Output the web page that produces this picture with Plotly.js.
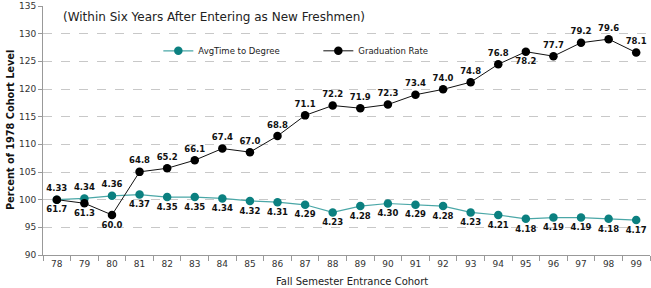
<!DOCTYPE html>
<html><head><meta charset="utf-8">
<script src="https://cdn.plot.ly/plotly-3.0.1.min.js"></script>
<style>html,body{margin:0;padding:0;background:#fff}</style>
</head><body><div id="chart" style="width:651px;height:288px"></div>
<script>
const cohorts = ['78','79','80','81','82','83','84','85','86','87','88','89','90','91','92','93','94','95','96','97','98','99'];
const avgTime = [4.33,4.34,4.36,4.37,4.35,4.35,4.34,4.32,4.31,4.29,4.23,4.28,4.30,4.29,4.28,4.23,4.21,4.18,4.19,4.19,4.18,4.17];
const gradRate = [61.7,61.3,60.0,64.8,65.2,66.1,67.4,67.0,68.8,71.1,72.2,71.9,72.3,73.4,74.0,74.8,76.8,78.2,77.7,79.2,79.6,78.1];
const yTicks = [90,95,100,105,110,115,120,125,130,135];
const avgLabelPos = ['top center','top center','top center','bottom center','bottom center','bottom center','bottom center','bottom center','bottom center','bottom center','bottom center','bottom center','bottom center','bottom center','bottom center','bottom center','bottom center','bottom center','bottom center','bottom center','bottom center','bottom center'];
const gradLabelPos = ['bottom center','bottom center','bottom center','top center','top center','top center','top center','top center','top center','top center','top center','top center','top center','top center','top center','top center','top center','bottom center','top center','top center','top center','top center'];

const pctAvg = avgTime.map(v => v / avgTime[0] * 100);
const pctGrad = gradRate.map(v => v / gradRate[0] * 100);
const labelFont = {family:'DejaVu Sans', size:8.5, color:'#111', weight:'bold'};

const traces = [
  {x:cohorts, y:pctAvg, name:'AvgTime to Degree', mode:'lines+markers+text',
   text:avgTime.map(v=>v.toFixed(2)), textposition:avgLabelPos, textfont:labelFont,
   line:{color:'#4aa7a7', width:1.2}, marker:{color:'#0b8080', size:8.5}, cliponaxis:false},
  {x:cohorts, y:pctGrad, name:'Graduation Rate', mode:'lines+markers+text',
   text:gradRate.map(v=>v.toFixed(1)), textposition:gradLabelPos, textfont:labelFont,
   line:{color:'#111', width:1}, marker:{color:'#000', size:8.5}, cliponaxis:false}
];
const layout = {
  width:651, height:288,
  margin:{l:43, r:1, t:6, b:33},
  paper_bgcolor:'#fff', plot_bgcolor:'#fff',
  font:{family:'DejaVu Sans', size:9, color:'#333'},
  showlegend:true,
  legend:{orientation:'h', x:0.19, y:0.82, xanchor:'left', yanchor:'middle',
          font:{family:'DejaVu Sans', size:8.5, color:'#222'}, itemwidth:30, bgcolor:'rgba(0,0,0,0)',
          traceorder:'normal', entrywidth:115},
  xaxis:{type:'category', range:[-0.5,21.5], tickson:'boundaries', ticks:'outside', ticklen:5,
         tickcolor:'#999', showline:true, linecolor:'#999', showgrid:false, zeroline:false,
         tickfont:{family:'DejaVu Sans', size:9, color:'#333'}},
  yaxis:{range:[90,135], tickmode:'array', tickvals:yTicks, ticks:'outside', ticklen:4, tickcolor:'#999', showline:true, linecolor:'#999',
         gridcolor:'#c8c8c8', griddash:'dash', zeroline:false,
         tickfont:{family:'DejaVu Sans', size:9, color:'#333'}},
  annotations:[
    {text:'(Within Six Years After Entering as New Freshmen)', xref:'paper', yref:'paper', x:0.03, y:0.955,
     xanchor:'left', yanchor:'middle', showarrow:false, font:{family:'DejaVu Sans', size:12, color:'#222'}},
    {text:'Fall Semester Entrance Cohort', xref:'paper', yref:'paper', x:0.509, y:-0.108,
     xanchor:'center', yanchor:'middle', showarrow:false, font:{family:'DejaVu Sans', size:10, color:'#222'}},
    {text:'<b>Percent of 1978 Cohort Level</b>', xref:'paper', yref:'paper', x:-0.0535, y:0.5, textangle:-90,
     xanchor:'center', yanchor:'middle', showarrow:false, font:{family:'DejaVu Sans', size:9.75, color:'#111'}}
  ]
};
Plotly.newPlot('chart', traces, layout, {displayModeBar:false, staticPlot:true});
</script></body></html>
